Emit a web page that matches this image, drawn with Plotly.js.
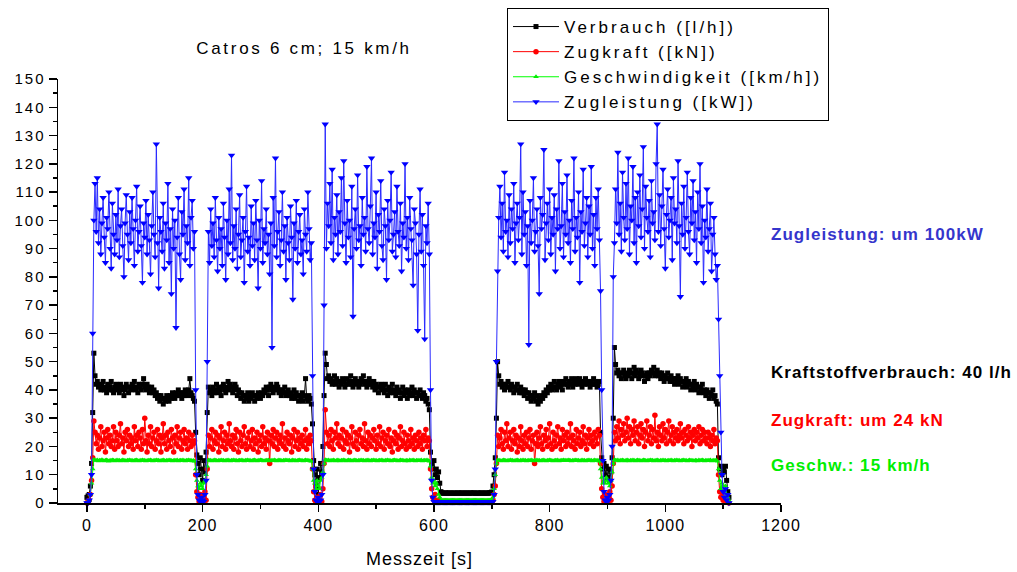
<!DOCTYPE html>
<html>
<head>
<meta charset="utf-8">
<script src="https://cdn.plot.ly/plotly-3.0.1.min.js"></script>
<style>
  html, body { margin: 0; padding: 0; background: #fff; }
  #chart { width: 1017px; height: 572px; }
  .legendtext { letter-spacing: 3px; }
  .gtitle { letter-spacing: 2.7px; }
  .ytick text { letter-spacing: 2px; }
  .xtick text { letter-spacing: 1px; }
  .g-xtitle text { letter-spacing: 1px; }
  .annotation-text { letter-spacing: 1.05px; }
</style>
</head>
<body>
<div id="chart"></div>
<script>
// Sampling: one value every 2 s, starting at t = 0 s (x0 = 0, dx = 2)
const seriesNames = ["Verbrauch ([l/h])", "Zugkraft ([kN])", "Geschwindigkeit ([km/h])", "Zugleistung ([kW])"];
const noteTexts = ["Zugleistung: um 100kW", "Kraftstoffverbrauch: 40 l/h", "Zugkraft: um 24 kN", "Geschw.: 15 km/h"];
const xTickVals = [0, 200, 400, 600, 800, 1000, 1200];
const yTickVals = [0, 10, 20, 30, 40, 50, 60, 70, 80, 90, 100, 110, 120, 130, 140, 150];

const verbrauch = [
  // start
  2, 2.5, 3, 6, 14, 32,
  // pass 1
  53, 45, 42, 43, 41, 42, 40, 41, 43, 40,
  41, 39, 42, 40, 41, 43, 40, 39, 41, 42,
  40, 41, 39, 42, 40, 41, 38, 40, 42, 41,
  39, 41, 40, 42, 41, 43, 40, 41, 39, 42,
  41, 40, 42, 44, 41, 40, 42, 41, 39, 40,
  41, 39, 40, 38, 39, 37, 38, 36, 38, 37,
  35, 37, 36, 38, 37, 36, 38, 37, 39, 38,
  37, 39, 38, 40, 38, 39, 37, 39, 38, 40,
  39, 38, 40, 44, 39, 38, 37, 36,
  // turn 1
  25, 17, 14, 10, 16, 12, 8, 15, 11, 18, 32,
  // pass 2
  41, 39, 40, 38, 41, 39, 40, 42, 39, 41,
  40, 38, 41, 42, 40, 39, 41, 43, 40, 42,
  41, 39, 40, 42, 41, 38, 40, 39, 37, 39,
  38, 36, 38, 37, 39, 36, 38, 37, 39, 38,
  36, 38, 37, 39, 38, 37, 39, 38, 40, 39,
  41, 40, 38, 41, 42, 40, 39, 41, 40, 42,
  41, 39, 40, 38, 40, 39, 41, 38, 39, 40,
  38, 39, 37, 38, 40, 37, 39, 38, 36, 38,
  37, 39, 36, 38, 44, 37, 36, 38, 37, 35,
  // turn 2
  28, 15, 10, 6, 12, 3, 9, 14, 11, 20, 38,
  // pass 3
  53, 49, 44, 45, 43, 44, 42, 43, 45, 42,
  44, 43, 41, 43, 42, 44, 43, 41, 42, 44,
  42, 43, 45, 42, 41, 43, 44, 42, 43, 41,
  42, 44, 43, 45, 42, 43, 41, 42, 44, 43,
  42, 41, 43, 40, 42, 41, 39, 41, 42, 40,
  41, 39, 42, 40, 38, 41, 39, 40, 42, 39,
  40, 38, 41, 39, 40, 37, 39, 41, 38, 40,
  39, 37, 40, 38, 39, 41, 38, 40, 39, 37,
  39, 38, 40, 38, 37, 39, 38, 36, 37, 35,
  33,
  // wind-down
  18, 14, 12, 15, 10, 12, 9, 11, 7, 4,
  // idle
  3.6, 3.4, 3.5, 3.6, 3.5, 3.4, 3.6, 3.5, 3.5, 3.4,
  3.6, 3.5, 3.4, 3.5, 3.6, 3.5, 3.4, 3.6, 3.5, 3.5,
  3.4, 3.6, 3.5, 3.5, 3.4, 3.6, 3.5, 3.6, 3.5, 3.4,
  3.5, 3.6, 3.4, 3.5, 3.6, 3.5, 3.4, 3.5, 3.6, 3.5,
  3.4, 3.6, 3.7, 3.9,
  // ramp
  6, 10, 16, 30,
  // pass 4
  50, 45, 42, 43, 41, 42, 40, 42, 41, 43,
  41, 40, 42, 41, 39, 41, 40, 42, 40, 39,
  41, 39, 40, 38, 40, 39, 37, 39, 38, 36,
  38, 37, 39, 36, 38, 35, 37, 36, 38, 37,
  39, 38, 40, 39, 41, 40, 42, 40, 41, 43,
  41, 40, 42, 43, 41, 42, 40, 43, 42, 44,
  42, 41, 43, 42, 44, 41, 43, 42, 44, 43,
  42, 44, 43, 41, 43, 42, 44, 43, 42, 43,
  41, 43, 42, 44, 42, 43, 41, 42, 43,
  // turn 3
  25, 16, 12, 14, 10, 13, 9, 12, 8, 11, 16, 30,
  // pass 5
  55, 49, 46, 47, 45, 46, 44, 46, 47, 45,
  44, 46, 45, 47, 46, 44, 46, 48, 45, 47,
  46, 44, 45, 47, 46, 45, 43, 45, 46, 44,
  46, 45, 47, 46, 48, 45, 46, 47, 45, 46,
  44, 46, 45, 43, 45, 44, 46, 44, 43, 45,
  43, 44, 42, 44, 43, 45, 42, 44, 43, 41,
  43, 42, 44, 41, 43, 42, 40, 42, 41, 43,
  40, 42, 41, 39, 41, 40, 42, 39, 40, 38,
  40, 39, 37, 39, 38, 40, 37, 38, 36, 35,
  // end
  16, 12, 13, 10, 12, 11, 13, 8, 4, 2
];

const zugkraft = [
  0, 0.5, 1, 3, 8, 16,
  29, 25, 21, 24, 19, 23, 27, 20, 22, 25,
  18, 23, 26, 21, 24, 20, 22, 27, 19, 25,
  22, 20, 24, 28, 21, 23, 18, 25, 22, 26,
  20, 24, 21, 23, 19, 27, 22, 24, 20, 25,
  23, 19, 26, 21, 30, 22, 18, 24, 21, 27,
  20, 23, 25, 19, 22, 26, 21, 24, 18, 23,
  28, 21, 24, 19, 25, 22, 20, 26, 23, 18,
  24, 21, 27, 20, 23, 25, 19, 22, 26, 21,
  23, 19, 25, 22, 20, 24, 21, 22,
  10, 4, 2, 0.5, 3, 1, 0.5, 2, 4, 1, 12,
  24, 20, 23, 26, 19, 22, 25, 21, 24, 18,
  23, 27, 20, 22, 25, 19, 24, 21, 28, 22,
  20, 24, 19, 23, 26, 21, 18, 25, 22, 20,
  24, 27, 21, 19, 23, 25, 20, 22, 26, 19,
  23, 21, 25, 18, 22, 24, 20, 27, 21, 23,
  19, 25, 22, 14, 24, 21, 26, 20, 23, 25,
  19, 22, 24, 21, 28, 20, 23, 19, 25, 22,
  21, 24, 18, 23, 26, 20, 22, 25, 19, 23,
  21, 24, 20, 22, 26, 19, 23, 21, 24, 22,
  12, 4, 1, 0.5, 2, 0.5, 1, 3, 0.5, 5, 14,
  33, 25, 21, 24, 20, 26, 22, 19, 25, 23,
  28, 21, 24, 20, 23, 26, 19, 22, 25, 21,
  24, 18, 23, 27, 21, 20, 25, 22, 19, 24,
  26, 21, 23, 20, 28, 22, 19, 25, 21, 24,
  20, 23, 26, 22, 19, 24, 21, 27, 20, 23,
  25, 19, 22, 24, 21, 26, 20, 23, 18, 22,
  25, 21, 24, 19, 23, 27, 20, 22, 25, 21,
  19, 24, 22, 20, 26, 21, 23, 19, 24, 22,
  20, 25, 21, 23, 19, 24, 22, 26, 20, 23,
  22,
  12, 5, 2, 1, 3, 1, 0.5, 1, 0.5, 0.5,
  0.5, 0.5, 0.5, 0.5, 0.5, 0.5, 0.5, 0.5, 0.5, 0.5,
  0.5, 0.5, 0.5, 0.5, 0.5, 0.5, 0.5, 0.5, 0.5, 0.5,
  0.5, 0.5, 0.5, 0.5, 0.5, 0.5, 0.5, 0.5, 0.5, 0.5,
  0.5, 0.5, 0.5, 0.5, 0.5, 0.5, 0.5, 0.5, 0.5, 0.5,
  0.5, 0.5, 0.5, 0.5,
  1, 3, 6, 14,
  24, 20, 23, 26, 21, 19, 25, 22, 28, 20,
  23, 25, 19, 22, 26, 21, 24, 18, 23, 20,
  27, 22, 19, 24, 21, 25, 20, 23, 26, 19,
  22, 24, 14, 21, 25, 20, 23, 27, 21, 19,
  24, 22, 26, 20, 23, 28, 21, 19, 25, 22,
  20, 24, 27, 21, 23, 19, 26, 22, 24, 20,
  25, 21, 23, 28, 20, 24, 22, 19, 26, 21,
  23, 25, 20, 22, 27, 21, 24, 19, 23, 26,
  21, 24, 22, 20, 25, 23, 21, 26, 24,
  14, 5, 2, 0.5, 3, 1, 0.5, 2, 4, 1, 6, 14,
  25, 22, 27, 23, 29, 21, 26, 24, 28, 22,
  25, 30, 23, 27, 21, 26, 24, 29, 22, 25,
  27, 21, 24, 28, 23, 26, 20, 25, 29, 22,
  24, 27, 21, 26, 23, 31, 22, 25, 20, 27,
  24, 22, 28, 23, 26, 21, 25, 29, 22, 24,
  27, 21, 25, 23, 26, 22, 24, 28, 23, 25,
  21, 26, 24, 22, 27, 23, 25, 20, 24, 26,
  22, 25, 23, 27, 21, 24, 26, 22, 25, 23,
  21, 25, 23, 20, 24, 22, 26, 21, 23, 22,
  10, 4, 2, 4, 1, 3, 1, 2, 0.5, 0
];

const geschwindigkeit = [
  0, 0.5, 1, 3, 7, 12,
  15.4, 15.1, 15.0, 15.2, 14.9, 15.1, 15.0, 15.3, 15.0, 14.9,
  15.1, 15.2, 15.0, 14.8, 15.1, 15.0, 15.2, 15.1, 14.9, 15.0,
  15.2, 15.0, 15.1, 14.9, 15.0, 15.2, 15.1, 15.0, 14.9, 15.1,
  15.0, 15.2, 15.0, 15.1, 14.9, 15.0, 15.1, 15.2, 15.0, 14.9,
  15.1, 15.0, 15.2, 15.0, 15.1, 14.9, 15.0, 15.1, 15.0, 15.2,
  15.0, 14.9, 15.1, 15.0, 15.2, 15.0, 15.1, 14.9, 15.0, 15.1,
  15.2, 15.0, 14.9, 15.1, 15.0, 15.2, 15.1, 15.0, 14.9, 15.0,
  15.1, 15.0, 15.2, 14.9, 15.0, 15.1, 15.0, 15.2, 15.0, 14.9,
  15.1, 15.0, 15.2, 15.0, 15.1, 14.9, 15.0, 14.8,
  12, 8, 6, 5, 7, 6, 5, 7, 8, 10, 13,
  15.2, 15.0, 15.1, 14.9, 15.0, 15.2, 15.1, 15.0, 14.9, 15.1,
  15.0, 15.2, 15.0, 15.1, 14.9, 15.0, 15.1, 15.2, 15.0, 14.9,
  15.1, 15.0, 15.2, 15.0, 15.1, 14.9, 15.0, 15.1, 15.0, 15.2,
  15.0, 14.9, 15.1, 15.0, 15.2, 15.0, 15.1, 14.9, 15.0, 15.1,
  15.2, 15.0, 14.9, 15.1, 15.0, 15.2, 15.1, 15.0, 14.9, 15.0,
  15.1, 15.0, 15.2, 14.9, 15.0, 15.1, 15.0, 15.2, 15.0, 14.9,
  15.0, 15.2, 15.1, 15.0, 14.9, 15.1, 15.0, 15.2, 15.1, 15.0,
  15.1, 14.9, 15.0, 15.2, 15.0, 15.1, 14.9, 15.0, 15.1, 15.2,
  15.0, 15.1, 14.9, 15.0, 15.2, 15.0, 15.1, 15.0, 14.9, 14.8,
  12, 8, 7, 5, 8, 6, 5, 8, 9, 11, 14,
  15.3, 15.1, 15.0, 15.2, 14.9, 15.1, 15.0, 15.2, 15.0, 14.9,
  15.1, 15.2, 15.0, 14.9, 15.1, 15.0, 15.2, 15.1, 14.9, 15.0,
  15.2, 15.0, 15.1, 14.9, 15.0, 15.2, 15.1, 15.0, 14.9, 15.1,
  15.0, 15.2, 15.0, 15.1, 14.9, 15.0, 15.1, 15.2, 15.0, 14.9,
  15.1, 15.0, 15.2, 15.0, 15.1, 14.9, 15.0, 15.1, 15.0, 15.2,
  15.0, 14.9, 15.1, 15.0, 15.2, 15.0, 15.1, 14.9, 15.0, 15.1,
  15.2, 15.0, 15.1, 14.9, 15.0, 15.2, 15.0, 15.1, 15.0, 14.9,
  15.1, 15.0, 14.9, 15.2, 15.0, 15.1, 15.2, 15.0, 14.9, 15.1,
  15.0, 15.1, 15.0, 15.2, 14.9, 15.0, 15.1, 15.0, 15.2, 15.0,
  14.8,
  13, 9, 7, 8, 6, 7, 5, 3, 2, 1,
  1.0, 1.0, 1.0, 1.0, 1.0, 1.0, 1.0, 1.0, 1.0, 1.0,
  1.0, 1.0, 1.0, 1.0, 1.0, 1.0, 1.0, 1.0, 1.0, 1.0,
  1.0, 1.0, 1.0, 1.0, 1.0, 1.0, 1.0, 1.0, 1.0, 1.0,
  1.0, 1.0, 1.0, 1.0, 1.0, 1.0, 1.0, 1.0, 1.0, 1.0,
  1.0, 1.0, 1.0, 1.0,
  2, 5, 10, 14,
  15.2, 15.0, 15.1, 14.9, 15.0, 15.2, 15.1, 15.0, 14.9, 15.1,
  15.0, 15.2, 15.0, 15.1, 14.9, 15.0, 15.1, 15.2, 15.0, 14.9,
  15.1, 15.0, 15.2, 15.0, 15.1, 14.9, 15.0, 15.1, 15.0, 15.2,
  15.0, 14.9, 15.1, 15.0, 15.2, 15.0, 15.1, 14.9, 15.0, 15.1,
  15.2, 15.0, 14.9, 15.1, 15.0, 15.2, 15.1, 15.0, 14.9, 15.0,
  15.1, 15.0, 15.2, 14.9, 15.0, 15.1, 15.0, 15.2, 15.0, 15.1,
  15.0, 15.2, 15.1, 15.0, 14.9, 15.1, 15.0, 15.2, 15.1, 15.0,
  15.1, 14.9, 15.0, 15.2, 15.0, 15.1, 14.9, 15.0, 15.1, 15.2,
  15.0, 15.1, 14.9, 15.0, 15.2, 15.0, 15.1, 15.0, 14.8,
  12, 9, 7, 8, 7, 9, 8, 7, 6, 8, 11, 14,
  15.3, 15.1, 15.0, 15.2, 14.9, 15.1, 15.0, 15.2, 15.0, 14.9,
  15.1, 15.2, 15.0, 14.9, 15.1, 15.0, 15.2, 15.1, 14.9, 15.0,
  15.2, 15.0, 15.1, 14.9, 15.0, 15.2, 15.1, 15.0, 14.9, 15.1,
  15.0, 15.2, 15.0, 15.1, 14.9, 15.0, 15.1, 15.2, 15.0, 14.9,
  15.1, 15.0, 15.2, 15.0, 15.1, 14.9, 15.0, 15.1, 15.0, 15.2,
  15.0, 14.9, 15.1, 15.0, 15.2, 15.0, 15.1, 14.9, 15.0, 15.1,
  15.2, 15.0, 15.1, 14.9, 15.0, 15.2, 15.0, 15.1, 15.0, 14.9,
  15.1, 15.0, 14.9, 15.2, 15.0, 15.1, 15.2, 15.0, 14.9, 15.1,
  15.0, 15.1, 15.0, 15.2, 14.9, 15.0, 15.1, 15.0, 15.2, 14.8,
  12, 8, 5, 7, 6, 4, 6, 3, 2, 1
];

const zugleistung = [
  0, 0, 1, 3, 10, 60,
  100, 113, 96, 115, 92, 104, 88, 99, 108, 94,
  85, 101, 97, 110, 90, 83, 106, 95, 88, 102,
  93, 111, 87, 98, 104, 91, 80, 99, 109, 95,
  86, 103, 92, 108, 97, 84, 100, 112, 89, 96,
  105, 91, 78, 99, 94, 107, 88, 102, 93, 81,
  98, 110, 95, 87, 127, 92, 76, 101, 96, 89,
  106, 83, 99, 93, 113, 85, 97, 74, 104, 90,
  100, 62, 94, 108, 88, 79, 103, 95, 111, 86,
  98, 92, 115, 84, 101, 107, 90, 96,
  40, 10, 3, 1, 0.5, 2, 1, 0.5, 3, 8, 50,
  96, 85, 104, 91, 99, 87, 108, 93, 82, 101,
  90, 97, 84, 106, 94, 79, 100, 88, 111, 92,
  123, 86, 98, 90, 104, 83, 95, 109, 87, 93,
  101, 78, 96, 112, 89, 94, 84, 105, 91, 99,
  86, 107, 93, 76, 100, 90, 114, 85, 97, 92,
  104, 88, 95, 81, 99, 55, 108, 91, 122, 87,
  96, 103, 84, 93, 110, 89, 98, 79, 101, 92,
  86, 105, 94, 72, 99, 90, 107, 85, 96, 102,
  88, 93, 81, 104, 95, 89, 110, 97, 86, 92,
  45, 12, 4, 1, 0.5, 2, 0.5, 1, 3, 10, 70,
  134, 90, 106, 98, 113, 92, 118, 86, 101, 95,
  109, 88, 103, 96, 115, 91, 121, 99, 85, 107,
  94, 100, 87, 112, 66, 97, 104, 90, 116, 93,
  98, 84, 108, 95, 101, 89, 119, 97, 92, 105,
  122, 88, 99, 94, 110, 83, 102, 96, 114, 91,
  86, 104, 98, 79, 107, 93, 100, 117, 89, 95,
  103, 87, 112, 96, 91, 106, 82, 99, 94, 120,
  90, 101, 86, 108, 97, 93, 77, 104, 99, 88,
  61, 95, 111, 89, 102, 84, 58, 98, 92, 106,
  88,
  40, 8, 2, 0.5, 0.3, 0.3, 0.3, 0.3, 0.3, 0.3,
  0.3, 0.3, 0.3, 0.3, 0.3, 0.3, 0.3, 0.3, 0.3, 0.3,
  0.3, 0.3, 0.3, 0.3, 0.3, 0.3, 0.3, 0.3, 0.3, 0.3,
  0.3, 0.3, 0.3, 0.3, 0.3, 0.3, 0.3, 0.3, 0.3, 0.3,
  0.3, 0.3, 0.3, 0.3, 0.3, 0.3, 0.3, 0.3, 0.3, 0.3,
  0.3, 0.3, 0.3, 0.3,
  0.5, 3, 12, 50,
  82, 101, 112, 94, 106, 89, 117, 96, 100, 87,
  109, 92, 104, 97, 113, 85, 99, 106, 93, 101,
  127, 88, 110, 95, 103, 84, 98, 56, 107, 92,
  100, 115, 89, 96, 104, 91, 74, 108, 97, 102,
  125, 86, 99, 106, 93, 111, 88, 101, 95, 109,
  82, 104, 97, 121, 90, 98, 113, 87, 103, 95,
  116, 92, 100, 85, 107, 97, 122, 89, 101, 94,
  110, 78, 103, 96, 118, 91, 99, 108, 87, 105,
  95, 119, 90, 102, 84, 108, 97, 111, 93,
  75, 40, 15, 4, 1, 0.5, 2, 1, 3, 8, 20, 80,
  92, 111, 99, 124, 95, 106, 89, 117, 101, 93,
  113, 97, 122, 88, 105, 100, 119, 92, 108, 85,
  110, 98, 116, 94, 104, 126, 90, 112, 101, 96,
  107, 87, 114, 99, 103, 93, 120, 134, 96, 109,
  91, 105, 118, 97, 83, 102, 111, 94, 100, 108,
  86, 115, 99, 104, 92, 121, 98, 73, 106, 95,
  112, 90, 101, 117, 96, 88, 108, 99, 114, 93,
  103, 85, 110, 97, 120, 92, 105, 78, 100, 94,
  111, 89, 97, 106, 82, 95, 101, 88, 79, 84,
  65, 45, 25, 10, 4, 2, 5, 1, 3, 0
];

const FONT = "Liberation Sans, Arial, Helvetica, sans-serif";

function mk(name, y, lineColor, markerColor, symbol, size) {
  return {
    type: "scatter", mode: "lines+markers", name: name,
    x0: 0, dx: 2, y: y, cliponaxis: false,
    line: { color: lineColor, width: 1 },
    marker: { color: markerColor, symbol: symbol, size: size, line: { width: 0 } }
  };
}

const traces = [
  mk(seriesNames[0], verbrauch, "#000000", "#000000", "square", 5),
  mk(seriesNames[1], zugkraft, "#ff0000", "#ff0000", "circle", 5.5),
  mk(seriesNames[2], geschwindigkeit, "#00ff00", "#00ee00", "triangle-up", 5),
  mk(seriesNames[3], zugleistung, "#2a2aff", "#0000ff", "triangle-down", 6.5)
];

const noteColors = ["#3535cc", "#000000", "#ff0000", "#00ee00"];
const noteYpx = [234, 372, 420, 465];
const annotations = noteTexts.map((t, i) => ({
  text: t, xref: "paper", yref: "paper", x: (770 - 58) / 723, y: (503 - noteYpx[i]) / 424,
  xanchor: "left", yanchor: "middle", showarrow: false, borderpad: 0,
  font: { family: FONT, size: 17, color: noteColors[i], weight: "bold" }
}));

const layout = {
  width: 1017, height: 572,
  margin: { l: 58, r: 236, t: 79, b: 69, autoexpand: false },
  paper_bgcolor: "#ffffff", plot_bgcolor: "#ffffff",
  font: { family: FONT, color: "#000000" },
  title: {
    text: "Catros 6 cm; 15 km/h",
    xref: "container", yref: "container",
    x: 304 / 1017, xanchor: "center",
    y: 1 - 48 / 572, yanchor: "middle",
    font: { family: FONT, size: 17, color: "#000000" }
  },
  showlegend: true,
  legend: {
    xref: "paper", yref: "paper",
    x: (507 - 58) / 723, y: (503 - 8) / 424, xanchor: "left", yanchor: "top",
    bgcolor: "#ffffff", bordercolor: "#000000", borderwidth: 1,
    font: { family: FONT, size: 17, color: "#000000" },
    itemwidth: 46, tracegroupgap: 0
  },
  xaxis: {
    range: [-50, 1200], tickmode: "linear", tick0: xTickVals[0], dtick: xTickVals[1] - xTickVals[0],
    automargin: false,
    showline: true, linecolor: "#000000", linewidth: 1.5,
    ticks: "outside", ticklen: 7, tickwidth: 1.5, tickcolor: "#000000",
    minor: { dtick: 100, ticks: "outside", ticklen: 4, tickwidth: 1.5, tickcolor: "#000000", showgrid: false },
    showgrid: false, zeroline: false,
    tickfont: { family: FONT, size: 16, color: "#000000" },
    title: { text: "Messzeit [s]", font: { family: FONT, size: 18, color: "#000000" }, standoff: 19 }
  },
  yaxis: {
    range: [0, 150], tickmode: "linear", tick0: yTickVals[0], dtick: yTickVals[1] - yTickVals[0],
    automargin: false,
    showline: true, linecolor: "#000000", linewidth: 1.5,
    ticks: "outside", ticklen: 8, tickwidth: 1.5, tickcolor: "#000000",
    minor: { dtick: 5, ticks: "outside", ticklen: 4, tickwidth: 1.5, tickcolor: "#000000", showgrid: false },
    showgrid: false, zeroline: false,
    tickfont: { family: FONT, size: 15, color: "#000000" }
  },
  annotations: annotations
};

Plotly.newPlot("chart", traces, layout, { displayModeBar: false, staticPlot: true });
</script>
</body>
</html>
